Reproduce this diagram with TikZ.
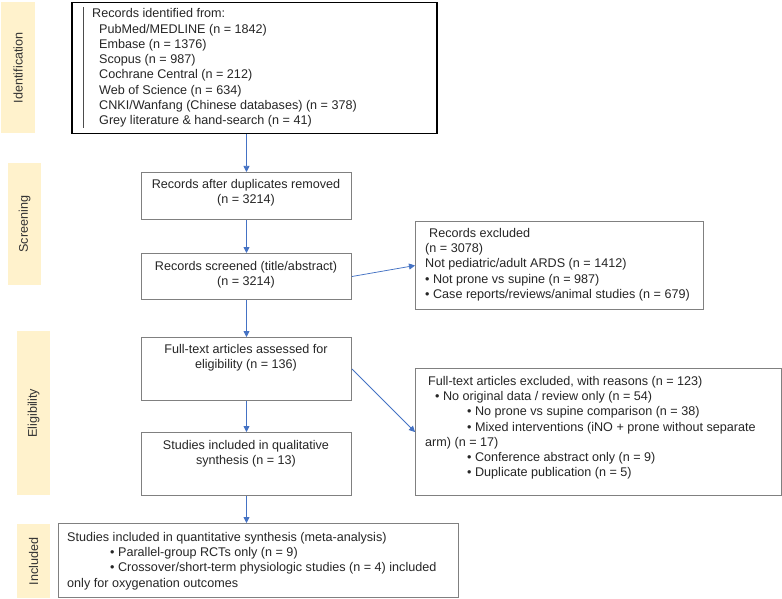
\documentclass[tikz,border=0pt]{standalone}
\usepackage{fontspec}
\setmainfont{Liberation Sans}
\usetikzlibrary{arrows.meta}
\definecolor{phase}{HTML}{FFF2CC}
\definecolor{boxline}{HTML}{808080}
\definecolor{arrowc}{HTML}{4472C4}
\begin{document}
\begin{tikzpicture}[x=1pt,y=-1pt,
  every node/.style={font=\fontsize{12.6}{15.25}\selectfont, inner sep=0pt},
  phasebox/.style={fill=phase, draw=none, anchor=north west},
  phasetxt/.style={rotate=90, text=black!80},
  box/.style={draw=boxline, line width=1pt, fill=white, anchor=north west},
  txtl/.style={align=left, anchor=north west, text=black!85},
  txtc/.style={align=center, anchor=north, text=black!85},
  flow/.style={draw=arrowc, line width=0.75pt, -{Triangle[length=6pt,width=6pt]}}
]
\useasboundingbox (0,0) rectangle (782,599);
\fill[white] (0,0) rectangle (782,599);

% phase labels
\node[phasebox, minimum width=34pt, minimum height=131pt] (pid) at (1,2) {};
\node[phasetxt] (tid) at (pid.center) {Identification};
\node[phasebox, minimum width=33pt, minimum height=122pt] (psc) at (8,163) {};
\node[phasetxt] (tsc) at (psc.center) {Screening};
\node[phasebox, minimum width=33pt, minimum height=164pt] (pel) at (17,331) {};
\node[phasetxt] (tel) at (pel.center) {Eligibility};
\node[phasebox, minimum width=33pt, minimum height=74pt] (pin) at (17,524) {};
\node[phasetxt] (tin) at (pin.center) {Included};

% boxes
\node[box, draw=black, line width=1.5pt, minimum width=365pt, minimum height=131pt] (b1) at (71,2) {};
\draw[black!70, line width=1pt] (83,7) -- (83,128);
\node[txtl] (t1) at (92,8.5) {Records identified from:\\
\hspace*{7pt}PubMed/MEDLINE (n = 1842)\\
\hspace*{7pt}Embase (n = 1376)\\
\hspace*{7pt}Scopus (n = 987)\\
\hspace*{7pt}Cochrane Central (n = 212)\\
\hspace*{7pt}Web of Science (n = 634)\\
\hspace*{7pt}CNKI/Wanfang (Chinese databases) (n = 378)\\
\hspace*{7pt}Grey literature \& hand-search (n = 41)};

\node[box, minimum width=210pt, minimum height=47pt] (b2) at (141,172) {};
\node[txtc] (t2) at (246,179) {Records after duplicates removed\\(n = 3214)};

\node[box, minimum width=210pt, minimum height=46pt] (b3) at (141,253) {};
\node[txtc] (t3) at (246,261) {Records screened (title/abstract)\\(n = 3214)};

\node[box, minimum width=288pt, minimum height=88pt] (e1) at (415,221) {};
\node[txtl] (te1) at (425,228) {\hspace*{4pt}Records excluded\\
(n = 3078)\\
Not pediatric/adult ARDS (n = 1412)\\
• Not prone vs supine (n = 987)\\
• Case reports/reviews/animal studies (n = 679)};

\node[box, minimum width=210pt, minimum height=63pt] (b4) at (141,337) {};
\node[txtc] (t4) at (246,344) {Full-text articles assessed for\\eligibility (n = 136)};

\node[box, minimum width=210pt, minimum height=63pt] (b5) at (141,432) {};
\node[txtc] (t5) at (246,440) {Studies included in qualitative\\synthesis (n = 13)};

\node[box, minimum width=366pt, minimum height=127pt] (e2) at (415,368) {};
\node[txtl] (te2) at (425,376) {\hspace*{3pt}Full-text articles excluded, with reasons (n = 123)\\
\hspace*{10pt}• No original data / review only (n = 54)\\
\hspace*{42pt}• No prone vs supine comparison (n = 38)\\
\hspace*{42pt}• Mixed interventions (iNO + prone without separate\\
arm) (n = 17)\\
\hspace*{42pt}• Conference abstract only (n = 9)\\
\hspace*{42pt}• Duplicate publication (n = 5)};

\node[box, minimum width=400pt, minimum height=74pt] (b6) at (58,523) {};
\node[txtl] (t6) at (67,532) {Studies included in quantitative synthesis (meta-analysis)\\
\hspace*{43pt}• Parallel-group RCTs only (n = 9)\\
\hspace*{43pt}• Crossover/short-term physiologic studies (n = 4) included\\
only for oxygenation outcomes};

% connectors
\draw[flow] (b1.south -| b2.north) -- (b2.north);
\draw[flow] (b2.south) -- (b3.north);
\draw[flow] (b3.south) -- (b4.north);
\draw[flow] (b4.south) -- (b5.north);
\draw[flow] (b5.south) -- (b5.south |- b6.north);
\draw[flow] (b3.east) -- (e1.west);
\draw[flow] (b4.east) -- (e2.west);
\end{tikzpicture}
\end{document}
